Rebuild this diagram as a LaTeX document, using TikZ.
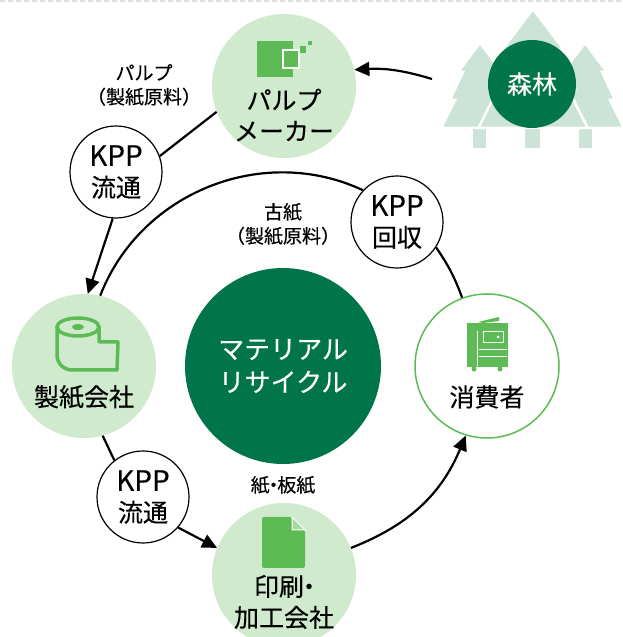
\documentclass[tikz,border=0pt]{standalone}
\usepackage{fontspec}
\setmainfont{Noto Sans CJK JP}[FakeBold=0.35]
\usetikzlibrary{arrows.meta}

\definecolor{paleleaf}{HTML}{CFEACC}
\definecolor{leaf}{HTML}{5CBB55}
\definecolor{pine}{HTML}{00754A}
\definecolor{mist}{HTML}{CCE3D8}

% one fir of the forest: apex (x,y), size factor
\def\firtree(#1,#2)[#3]{\filldraw[fill=mist, draw=white, line width=2.5pt, shift={(#1,#2)}, scale=#3]
	(0,0) -- (-22,-29) -- (-17,-29) -- (-30,-57) -- (-25,-57) -- (-39,-85)
	-- (39,-85) -- (25,-57) -- (30,-57) -- (17,-29) -- (22,-29) -- cycle;}

\tikzset{
	hub/.style={circle, fill=paleleaf, minimum size=144pt, inner sep=0pt},
	badge/.style={circle, draw=black, line width=1.2pt, fill=white, minimum size=92pt, inner sep=0pt, align=center, font=\fontsize{25}{31}\selectfont},
	caption/.style={align=center, inner sep=0pt, font=\fontsize{25}{31}\selectfont},
	note/.style={align=center, inner sep=0pt, font=\fontsize{19}{24}\selectfont},
	flow/.style={line width=2.2pt},
	arr/.style={flow, -{Triangle[length=15pt,width=14pt]}},
}
\def\kppmark{{\fontsize{28}{31}\selectfont KPP}}
\def\nakaguro{\kern-.3em・\kern-.3em}

\begin{document}
\begin{tikzpicture}[x=1pt, y=1pt]
	%%%%% START %%%%%
	\useasboundingbox (0,0) rectangle (623,637);
	\draw[gray!25, line width=1.5pt, dash pattern=on 5pt off 3pt] (0,636) -- (623,636);
	
	% forest
	\fill[mist] (473,489) rectangle (486,510);
	\fill[mist] (579,489) rectangle (592,510);
	\fill[mist] (525,489) rectangle (540,510);
	\firtree(480,594)[1]
	\firtree(585,594)[1]
	\firtree(533,628)[1.4]
	\node[circle, fill=pine, minimum size=88pt, inner sep=0pt, text=white, font=\fontsize{25}{31}\selectfont] (forest) at (532,553) {森林};
	\coordinate (woods) at (432,558);
	
	% circles
	\node[hub] (pulp) at (284,551) {};
	\node[caption] (pulptxt) at (284,522) {パルプ\\メーカー};
	\node[hub] (seishi) at (84,271) {};
	\node[caption] (seishitxt) at (84,240) {製紙会社};
	\node[hub] (print) at (284,62) {};
	\node[caption] (printtxt) at (284,35) {印刷\nakaguro\\加工会社};
	\node[hub, fill=white, draw=leaf, line width=1.5pt] (user) at (487,271) {};
	\node[caption] (usertxt) at (487,240) {消費者};
	\node[circle, fill=pine, minimum size=196pt, inner sep=0pt, align=center, text=white, font=\fontsize{26}{33}\selectfont] (core) at (283,271) {マテリアル\\リサイクル};
	
	\node[badge] (kpp1) at (116,465) {\kppmark\\流通};
	\node[badge] (kpp2) at (143,140) {\kppmark\\流通};
	\node[badge] (kaishu) at (397,415) {\kppmark\\回収};
	
	\node[note] (pulpnote) at (144,552) {パルプ\\（製紙原料）};
	\node[note] (koshinote) at (283,413) {古紙\\（製紙原料）};
	\node[note] (papernote) at (283,152) {紙\nakaguro 板紙};
	
	% flows
	\draw[arr] (woods) to[bend right=10] (pulp.13);
	\draw[flow] (pulp.201) -- (kpp1.20);
	\draw[arr] (kpp1.266) -- (seishi.87);
	\draw[flow] (seishi.-75) -- (kpp2.128);
	\draw[arr] (kpp2.-41) -- (print.158);
	\draw[arr] (print.22) to[bend right=23] (user.253);
	\draw[flow] (user.110) to[bend right=7] (kaishu.-33);
	\draw[flow] (kaishu.137) to[bend right=47] (seishi.77);
	
	% pulp icon
	\begin{scope}[shift={(pulp.center)}]
		\fill[leaf] (-27,9) rectangle (9,45);
		\filldraw[fill=leaf, draw=white, line width=1.5pt] (-1,18) rectangle (15,36);
		\fill[leaf] (16,33) rectangle (22,40);
		\fill[leaf] (24,41) rectangle (28,45);
	\end{scope}
	
	% paper roll icon
	\begin{scope}[shift={(seishi.center)}]
		\draw[leaf, line width=3.5pt] (-6,39) ellipse (21 and 9);
		\fill[leaf] (-6,39) ellipse (6 and 3);
		\draw[leaf, line width=3.5pt, line join=round, rounded corners=15pt] (-27,39) -- (-27,-4) -- (34,-4);
		\draw[leaf, line width=3.5pt, line join=round] (33,-4) -- (34,24) -- (15,24) -- (15,39);
	\end{scope}
	
	% document icon
	\begin{scope}[shift={(print.center)}]
		\fill[leaf, rounded corners=2pt] (-22,7) -- (-22,58) -- (8,58) -- (21,45) -- (21,7) -- cycle;
		\filldraw[fill=leaf!55!white, draw=white, line width=1pt] (8,58) -- (8,45) -- (21,45) -- cycle;
	\end{scope}
	
	% copier icon
	\begin{scope}[shift={(user.center)}]
		\fill[leaf] (-20,-1) rectangle (21,43);
		\fill[leaf] (-9,44) -- (12,49) -- (12,45) -- (-4,43) -- cycle;
		\draw[white, line width=1pt] (-10,35) -- (-10,0);
		\draw[white, line width=1pt] (-4,23) rectangle (16,34);
		\fill[white] (11,29) circle (1.5);
		\draw[white, line width=1pt] (-8,16) -- (20,16);
		\draw[white, line width=1pt] (-8,9) -- (20,9);
		\fill[leaf] (-13,-3) circle (2.5);
		\fill[leaf] (13,-3) circle (2.5);
	\end{scope}
	
	%%%%% END %%%%%
\end{tikzpicture}
\end{document}
